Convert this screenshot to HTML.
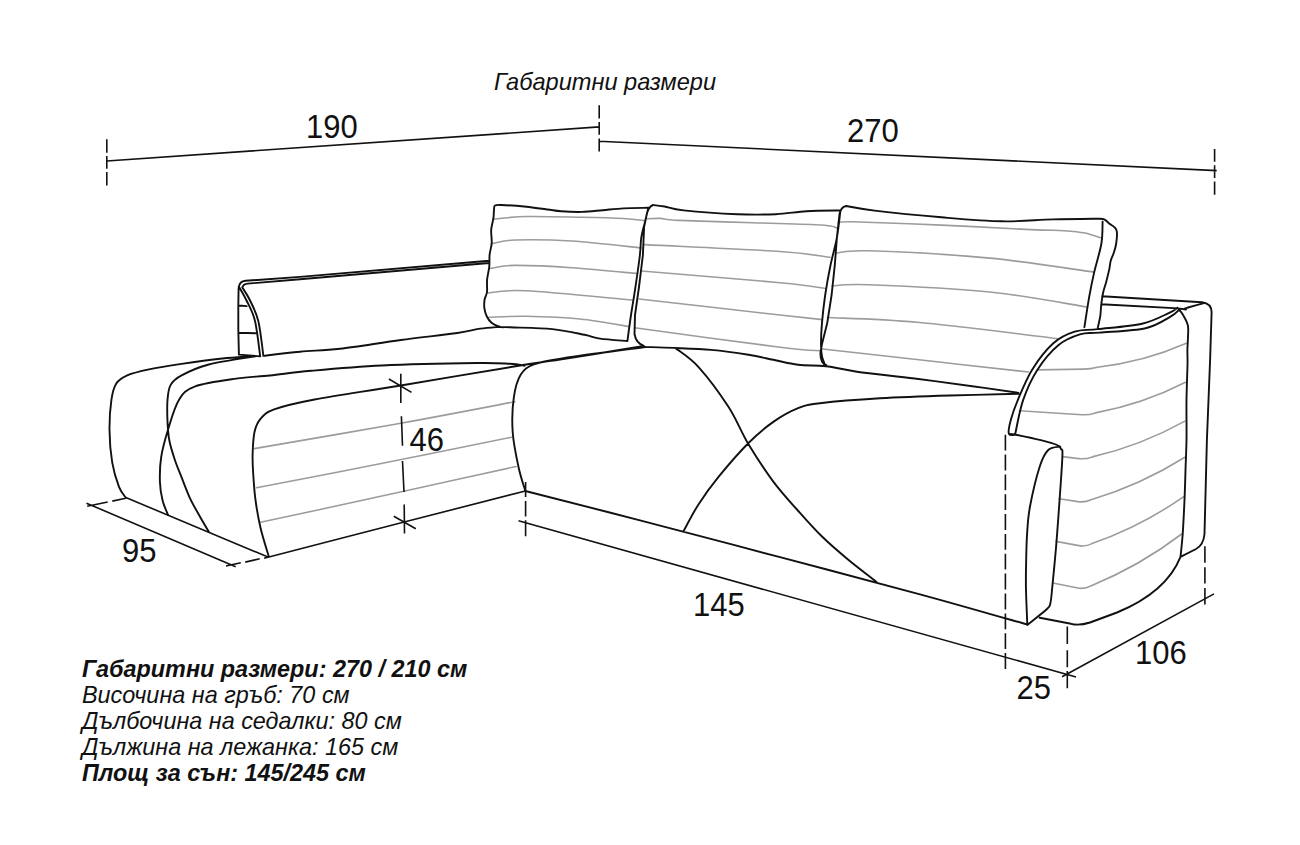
<!DOCTYPE html>
<html><head><meta charset="utf-8"><title>Sofa dimensions</title>
<style>
html,body{margin:0;padding:0;background:#fff;width:1300px;height:845px;overflow:hidden}
body{position:relative;font-family:"Liberation Sans",sans-serif;color:#111}
svg{position:absolute;left:0;top:0}
.k{fill:none;stroke:#111;stroke-width:1.9;stroke-linecap:round;stroke-linejoin:round}
.g{fill:none;stroke:#9c9c9c;stroke-width:1.6;stroke-linecap:round}
.dm{fill:none;stroke:#111;stroke-width:1.6}
.t{position:absolute;white-space:nowrap;line-height:1;transform-origin:0 0}
.d{font-size:31px;transform:scaleY(1.1)}
.blk{font-size:23.4px;font-style:italic;line-height:25.9px}
</style></head><body>
<svg width="1300" height="845" viewBox="0 0 1300 845">
<path class="g" d="M493.4 219.0C498.9 218.6 511.8 216.8 526.6 216.5C541.4 216.2 565.9 216.9 582.0 217.2C598.1 217.5 613.1 217.9 623.5 218.5C633.9 219.1 640.8 220.2 644.3 220.6M492.7 243.5C496.4 242.9 501.4 240.4 514.6 240.0C527.8 239.6 550.9 239.7 572.0 241.0C593.1 242.3 629.9 246.8 641.5 248.0M490.4 268.4C494.4 267.9 501.0 265.5 514.6 265.4C528.2 265.3 551.6 266.3 572.0 267.7C592.4 269.1 626.2 272.5 637.0 273.5M488.0 293.0C494.3 292.6 502.0 289.6 526.0 290.8C550.0 292.0 614.3 298.5 632.0 300.0M489.0 317.3C495.2 317.1 510.8 316.0 526.0 316.3C541.2 316.6 562.8 317.3 580.0 319.0C597.2 320.7 620.8 325.2 629.0 326.5M645.5 218.8C648.0 218.7 654.9 218.1 660.4 218.4C665.9 218.7 663.4 219.7 678.8 220.4C694.2 221.1 728.9 221.9 752.7 222.7C776.6 223.5 807.8 224.1 821.9 225.0C836.0 225.9 834.7 227.6 837.3 228.1M644.0 244.6C666.7 245.8 749.0 249.4 780.0 251.5C811.0 253.6 821.7 256.3 830.0 257.3M641.5 271.0C664.6 272.9 749.4 279.8 780.0 282.7C810.6 285.6 817.8 287.5 825.4 288.5M639.0 299.0C662.5 301.7 749.5 311.6 780.0 315.0C810.5 318.4 815.0 318.8 822.0 319.6M634.6 327.7C658.8 331.0 749.0 343.4 780.0 347.3C811.0 351.2 814.0 350.2 820.8 350.8M838.2 223.0C840.6 222.8 835.1 221.5 852.3 221.8C869.5 222.2 911.8 223.8 941.5 225.1C971.2 226.4 1010.3 228.7 1030.8 229.6C1051.2 230.5 1055.2 230.1 1064.2 230.7C1073.2 231.3 1079.0 231.8 1085.0 233.0C1091.0 234.2 1097.9 237.0 1100.5 237.8M835.8 253.2C841.2 252.8 842.8 250.0 868.5 250.8C894.2 251.6 952.2 254.6 989.8 258.1C1027.4 261.7 1076.7 269.8 1094.1 272.1M832.1 286.0C838.2 285.8 842.2 283.7 868.5 284.7C894.8 285.7 953.4 288.3 989.8 292.0C1026.2 295.7 1070.6 304.5 1086.8 307.0M827.3 317.5C842.2 318.3 878.6 318.8 917.0 322.3C955.4 325.8 1034.2 335.9 1057.7 338.6M822.4 349.0C842.2 351.2 906.9 358.5 941.3 362.3C975.7 366.1 1014.0 370.4 1028.6 372.0M1038.2 369.9L1083.6 369.1Q1090.6 369.0 1097.4 367.2Q1143.7 362.0 1186.4 343.3M1019.5 410.7L1081.8 414.7Q1088.8 415.2 1095.4 412.9Q1142.7 404.2 1185.5 382.3M1062.4 456.6L1078.8 458.6Q1085.8 459.4 1092.3 456.9Q1141.1 445.5 1184.9 421.1M1059.2 498.8L1077.8 501.6Q1084.7 502.7 1091.1 499.8Q1140.9 484.9 1184.9 457.3M1056.0 541.4L1078.9 545.6Q1085.8 546.8 1092.0 543.6Q1141.1 526.4 1183.8 496.7M1052.8 583.0L1077.8 588.0Q1084.7 589.4 1090.8 585.9Q1139.7 566.0 1181.7 534.0M254.3 448.6C278.7 444.4 357.4 431.0 400.8 423.2C444.2 415.4 496.0 405.3 515.0 401.7M256.5 487.8C277.1 483.8 337.5 472.2 380.0 463.8C422.5 455.4 489.8 441.6 511.7 437.2M259.4 522.5C269.5 520.3 295.0 514.9 320.0 509.5C345.0 504.1 376.7 497.2 409.4 490.0C442.1 482.8 498.4 470.4 516.2 466.5"/>
<path class="k" d="M238.9 354.6L238.3 329L238.3 305.5L238.6 288Q239.3 281.3 245.5 280.8L300 276.9C380 270 440 265 488.9 260.8M242.3 287.5Q243.3 283.9 247.7 283.6L300 279.3C380 272.5 440 267.3 489 263M238.8 286.5C240.1 288.8 243.6 294.3 246.3 300.0C249.0 305.7 252.7 311.5 255.0 320.9C257.3 330.3 259.3 350.5 260.2 356.4M242.3 287.5C243.6 289.6 247.1 294.4 249.8 300.0C252.5 305.6 256.0 311.6 258.3 320.9C260.6 330.2 262.5 350.0 263.4 355.8M238.9 305.5L246.6 306.1M238.9 332.7L255.5 333.3M238.9 354.6L260.2 356.4M263.2 355.8C269.3 355.1 287.2 352.9 300.0 351.7C312.8 350.5 323.2 350.6 340.0 348.7C356.8 346.8 381.2 342.6 400.8 340.0C420.4 337.4 444.1 334.9 457.4 333.0C470.7 331.1 473.3 329.6 480.4 328.6C487.5 327.6 496.6 327.1 499.8 326.8M648.4 207.8C647.8 210.2 646.2 217.0 645.0 222.0C643.8 227.0 642.1 232.1 641.3 237.6C640.4 243.1 640.9 246.3 639.9 255.0C638.9 263.7 636.5 280.0 635.0 290.0C633.5 300.0 632.3 306.5 631.0 315.0C629.7 323.5 628.0 336.7 627.4 341.0M627.4 341.0C622.8 340.6 607.1 339.6 600.0 338.6C592.9 337.6 592.6 336.4 584.6 334.8C576.6 333.2 564.7 330.4 552.3 329.1C539.9 327.9 518.8 327.7 510.0 327.3C501.2 326.9 502.9 327.6 499.8 326.8C496.7 326.0 493.7 324.5 491.5 322.7C489.3 320.9 487.8 318.5 486.6 316.0C485.4 313.5 484.6 310.4 484.3 307.7C484.0 304.9 484.2 302.1 484.6 299.5C485.1 296.9 486.6 295.3 487.0 292.0C487.4 288.7 486.7 283.9 487.1 279.6C487.5 275.3 488.9 270.5 489.3 266.3C489.7 262.1 489.2 258.6 489.6 254.7C490.0 250.8 491.4 247.2 491.7 243.1C492.0 238.9 490.9 234.0 491.2 229.8C491.5 225.7 492.9 221.5 493.4 218.2C493.9 214.9 493.7 212.0 494.0 209.9C494.3 207.8 493.7 206.3 495.0 205.5C496.3 204.7 496.3 204.8 501.6 205.0C506.9 205.2 519.0 206.1 526.6 206.8C534.2 207.6 541.5 208.8 547.3 209.5C553.1 210.2 555.4 210.9 561.2 211.3C567.0 211.7 575.1 212.1 582.0 211.9C588.9 211.7 595.8 210.8 602.7 210.2C609.6 209.6 615.9 208.8 623.5 208.4C631.1 208.0 644.2 207.9 648.4 207.8M643.8 346Q636 343 634.5 334L635 315L639 287L642.9 255L644.1 227L646.3 216.3Q648 207 653 205M653.0 205.0C654.9 205.2 659.5 205.6 664.6 206.5C669.7 207.4 671.4 209.1 683.5 210.4C695.6 211.7 721.9 213.6 737.3 214.2C752.7 214.8 764.3 214.7 775.8 214.2C787.3 213.7 795.7 211.8 806.5 211.2C817.3 210.6 834.8 210.6 840.4 210.5M840.4 210.7C839.8 215.2 838.5 228.5 836.9 237.6C835.2 246.7 832.5 255.6 830.5 265.2C828.5 274.8 826.6 285.4 825.2 295.0C823.8 304.6 822.7 314.5 822.0 322.7C821.3 330.9 821.0 338.4 821.0 344.0C821.0 349.6 821.3 352.9 822.0 356.5C822.7 360.1 824.8 364.2 825.4 365.8M643.0 346.9C648.1 347.1 662.5 347.4 673.9 347.9C685.3 348.4 698.8 348.8 711.2 349.9C723.6 351.0 738.1 353.1 748.5 354.8C758.9 356.5 765.0 358.1 773.3 359.8C781.6 361.5 789.3 363.7 798.1 364.8C806.9 365.9 816.2 365.1 826.0 366.2C835.8 367.3 842.2 369.6 857.0 371.7C871.8 373.8 895.4 376.1 914.6 378.5C933.8 380.9 955.0 383.8 972.3 386.2C989.6 388.6 1010.8 391.8 1018.5 392.9M846 206Q841 207 839.5 214L836.9 237.6L834.8 265.2L831.6 295L827.3 322.7L822 344L820.5 352.4Q820 363 826.3 365.2M846.0 206.0C850.8 206.8 858.7 208.7 874.6 210.6C890.5 212.5 920.3 215.5 941.5 217.3C962.7 219.1 983.2 221.0 1001.8 221.3C1020.4 221.7 1036.9 219.8 1053.1 219.4C1069.3 219.0 1091.5 218.8 1099.2 218.7M1099.2 218.7C1100.1 218.8 1102.9 218.8 1104.6 219.6C1106.3 220.4 1107.5 222.2 1109.2 223.5C1110.9 224.8 1113.3 225.9 1114.6 227.3C1115.9 228.7 1116.6 229.2 1116.9 231.9C1117.2 234.6 1116.7 240.0 1116.2 243.5C1115.7 247.0 1114.7 249.9 1113.8 252.7C1112.9 255.5 1111.6 257.6 1110.8 260.4C1110.0 263.2 1110.0 266.0 1109.2 269.6C1108.4 273.2 1107.2 278.0 1106.2 281.9C1105.2 285.8 1103.9 288.8 1103.1 292.7C1102.3 296.6 1101.7 301.1 1101.2 305.0C1100.7 308.9 1100.9 311.9 1100.3 315.8C1099.7 319.7 1098.1 326.1 1097.7 328.1M1102.6 221.7C1102.4 225.3 1102.8 235.0 1101.4 243.5C1100.0 252.0 1096.1 263.7 1094.1 272.6C1092.1 281.5 1090.8 287.8 1089.2 296.9C1087.6 306.0 1085.2 322.1 1084.4 327.2M1102.1 296.2L1202 302.2Q1211.8 303.5 1211.6 312.5L1210.1 360L1206.9 440L1204.5 534Q1203.5 545 1196 549L1180.5 556.8M1101.2 304.2L1178.4 308.4M1185.0 308.4C1185.8 308.2 1186.6 307.9 1189.8 307.0C1193.0 306.1 1201.6 303.8 1204.0 303.2M1178.4 308.4L1186.0 309.5M1016.0 434.7C1014.8 434.6 1009.8 436.2 1008.9 433.8C1008.0 431.4 1009.3 425.6 1010.8 420.0C1012.3 414.4 1014.3 408.5 1017.8 400.1C1021.3 391.8 1026.1 379.4 1032.0 369.9C1037.9 360.4 1046.2 349.7 1053.3 343.3C1060.4 336.9 1067.2 334.1 1074.6 331.7C1082.0 329.3 1086.5 330.4 1097.7 329.1C1108.9 327.8 1130.2 326.4 1142.0 323.7C1153.8 321.0 1162.8 315.8 1168.7 313.1C1174.6 310.5 1176.1 308.7 1177.6 307.8M1015.1 434.7C1016.4 428.9 1019.4 410.9 1023.1 400.1C1026.8 389.3 1031.4 379.1 1037.3 369.9C1043.2 360.7 1051.5 350.9 1058.6 345.0C1065.7 339.1 1073.1 336.5 1079.9 334.4C1086.7 332.3 1088.5 333.6 1099.4 332.6C1110.4 331.6 1133.8 330.9 1145.6 328.2C1157.4 325.5 1164.9 319.7 1170.5 316.6C1176.1 313.5 1177.8 310.7 1179.3 309.5M1177.6 307.8C1178.5 309.0 1181.4 312.1 1183.1 315.0C1184.8 317.9 1187.1 321.6 1187.9 325.5C1188.7 329.4 1188.0 334.6 1187.9 338.7C1187.8 342.8 1187.5 345.6 1187.4 350.0C1187.3 354.4 1187.7 356.7 1187.5 365.0C1187.3 373.3 1186.7 387.5 1186.5 400.0C1186.3 412.5 1186.7 428.3 1186.5 440.0C1186.3 451.7 1185.8 460.0 1185.5 470.0C1185.2 480.0 1185.0 489.3 1184.5 500.0C1184.0 510.7 1183.4 524.5 1182.7 534.0C1182.0 543.5 1180.9 553.0 1180.5 556.8M1180.5 556.8C1172 578 1152 598 1117 612.5L1090 622.5Q1079 626 1071 623.8L1039.7 617.8M1008.9 433.8C1010.1 433.9 1010.7 433.6 1016.0 434.7C1021.3 435.8 1034.0 438.5 1040.8 440.2C1047.6 441.9 1053.6 443.5 1057.0 445.0C1060.4 446.5 1060.1 447.2 1061.0 449.0C1061.9 450.8 1062.7 446.6 1062.4 456.0C1062.1 465.4 1060.3 489.9 1059.2 505.2C1058.1 520.5 1057.2 533.7 1056.0 547.8C1054.8 561.9 1052.9 580.8 1052.0 590.0C1051.1 599.2 1051.2 599.8 1050.4 603.0C1049.6 606.2 1050.8 605.4 1047.0 609.0C1043.2 612.6 1030.6 622.2 1027.3 624.9M1060.2 446.6C1058.2 447.1 1051.9 446.6 1048.5 449.8C1045.1 453.0 1043.1 456.4 1040.0 465.8C1036.9 475.2 1032.2 494.9 1030.0 506.5C1027.8 518.1 1027.7 524.8 1027.0 535.4C1026.3 546.0 1026.2 560.9 1026.0 570.0C1025.8 579.1 1025.8 580.9 1026.0 590.0C1026.2 599.1 1027.1 619.1 1027.3 624.9M525.4 491.2C524.2 487.2 520.6 476.8 518.5 467.0C516.4 457.2 513.5 443.9 512.7 432.3C511.9 420.8 512.4 407.3 513.8 397.7C515.1 388.1 517.3 380.2 520.8 374.6C524.3 369.0 526.5 367.1 534.6 364.2C542.7 361.3 550.7 360.2 569.2 357.3C587.7 354.4 632.7 348.7 645.4 347.0M675.2 347.9C679.1 351.1 689.9 357.4 698.8 367.3C707.7 377.2 720.3 394.2 728.6 407.0C736.9 419.8 741.0 431.9 748.5 444.3C756.0 456.7 765.2 470.7 773.3 481.6C781.4 492.5 788.9 500.4 797.0 509.5C805.1 518.6 813.5 528.2 822.0 536.5C830.5 544.8 838.9 551.9 848.0 559.5C857.1 567.1 871.8 578.2 876.5 582.0M683.5 531.3C686.0 526.7 692.9 513.0 698.8 503.9C704.7 494.8 710.4 486.8 718.7 476.6C727.0 466.5 739.4 452.1 748.5 443.0C757.6 433.9 765.0 427.7 773.3 421.9C781.6 416.1 790.3 411.3 798.1 408.2C805.9 405.1 806.4 404.8 820.0 403.2C833.6 401.6 858.3 399.6 880.0 398.3C901.7 397.0 926.9 396.2 950.0 395.5C973.1 394.8 1007.1 394.1 1018.5 393.8M525.3 491.0C544.4 495.9 597.5 509.3 640.0 520.3C682.5 531.3 733.3 544.9 780.0 557.2C826.7 569.5 878.8 583.1 920.0 594.3C961.2 605.5 1009.4 619.5 1027.3 624.6M268.7 556.3C267.3 551.5 262.7 537.2 260.5 527.8C258.3 518.4 256.7 508.8 255.5 500.0C254.3 491.2 253.8 482.5 253.3 475.0C252.8 467.5 252.4 462.2 252.6 455.0C252.8 447.8 253.2 438.0 254.5 432.0C255.8 426.0 257.2 422.7 260.5 418.9C263.8 415.1 265.1 412.6 274.1 409.4C283.1 406.2 293.5 403.5 314.6 399.5C335.7 395.5 365.8 391.3 400.8 385.5C435.8 379.7 498.1 369.1 524.6 364.8C551.1 360.5 548.3 361.3 560.0 359.5C571.7 357.7 581.0 356.2 595.0 354.0C609.0 351.8 635.7 347.3 643.8 346.0M251.0 356.3C246.2 356.7 234.0 357.2 222.4 358.5C210.8 359.8 193.8 362.1 181.6 363.9C169.4 365.7 158.1 367.5 149.0 369.4C139.9 371.3 132.7 373.0 127.2 375.4C121.8 377.8 118.9 379.4 116.3 383.5C113.7 387.6 112.5 392.2 111.4 399.9C110.3 407.6 109.4 419.4 109.5 429.8C109.6 440.2 110.6 452.9 112.2 462.4C113.8 471.9 116.7 481.0 119.0 486.9C121.3 492.8 124.8 496.0 125.9 497.8M255.4 356.3C247.6 357.7 221.1 361.3 208.8 364.5C196.5 367.7 187.9 372.0 181.6 375.4C175.2 378.8 173.0 380.8 170.7 384.9C168.3 389.0 168.0 393.8 167.5 399.9C167.0 406.0 167.2 414.8 167.5 421.6C167.8 428.4 168.2 434.4 169.4 440.7C170.6 447.0 172.8 453.6 174.8 459.7C176.8 465.8 179.1 471.0 181.6 477.4C184.1 483.8 186.9 491.4 189.8 497.8C192.8 504.2 196.1 509.8 199.3 515.5C202.5 521.2 207.2 529.1 208.8 531.8M524.6 365.7C522.2 365.4 518.0 364.2 510.0 363.8C502.0 363.4 497.9 362.7 476.6 363.0C455.3 363.3 409.6 364.2 382.0 365.5C354.4 366.8 329.7 369.1 311.0 370.8C292.3 372.5 282.5 374.2 270.0 375.5C257.5 376.8 248.5 376.8 236.0 378.6C223.5 380.4 204.7 382.8 195.2 386.3C185.7 389.9 183.4 392.6 178.9 399.9C174.4 407.1 170.9 420.3 168.0 429.8C165.1 439.3 162.5 448.4 161.2 457.0C159.8 465.6 159.7 474.2 159.9 481.5C160.1 488.8 161.2 494.9 162.6 500.5C163.9 506.1 167.1 512.4 168.0 514.8"/>
<path class="dm" d="M106.8 161.0L599.2 126.9M599.2 141.2L1216.7 170.6M518.5 520.8L1076.0 677.0M1062.1 676.8L1214.0 593.9M264.1 558.2L320.0 543.7L404.2 522.0L525.4 491.0M125.8 497.5L268.0 557.1M400.8 373.7L400.8 402.9M401.4 416.2L402.5 445.8M402.5 461.0L404.0 492.0M404.2 504.6L404.5 533.5M388.9 379.0L411.5 392.4M393.8 516.2L415.8 528.8M86.5 503.2L235.7 566.7M106.8 139.2L106.8 152.7M106.8 155.9L106.8 168.7M106.8 171.9L106.8 185.4M599.2 105.3L599.2 118.5M599.2 122.0L599.2 134.8M599.2 138.4L599.2 151.5M1214.6 148.9L1214.6 161.7M1214.6 165.2L1214.6 178.0M1214.6 181.6L1214.6 194.7M525.6 482.0L525.6 497.0M525.6 501.1L525.6 516.4M525.6 520.2L525.6 536.3M1005.4 434.7L1005.4 450.6M1005.4 454.6L1005.4 470.4M1005.4 474.4L1005.4 490.2M1005.4 494.2L1005.4 510.1M1005.4 514.1L1005.4 530.0M1005.4 534.0L1005.4 549.8M1005.4 553.8L1005.4 569.6M1005.4 573.6L1005.4 589.5M1005.4 593.5L1005.4 609.4M1005.4 613.4L1005.4 629.2M1005.4 633.2L1005.4 649.1M1005.4 653.0L1005.4 668.9M1067.3 626.6L1067.3 644.1M1067.3 650.3L1067.3 667.3M1067.3 671.1L1067.3 688.2M1204.9 546.2L1204.9 562.8M1204.9 567.3L1204.9 583.5M1204.9 588.0L1204.9 604.6M87.2 506.2L107.7 502.0M112.3 501.1L125.7 498.3M226.0 566.0L240.8 562.8M245.2 562.1L259.7 558.8"/>
</svg>
<div class="t" style="left:494px;top:71px;font-size:23.6px;font-style:italic">Габаритни размери</div>
<div class="t d" style="left:306px;top:109px">190</div>
<div class="t d" style="left:847px;top:113px">270</div>
<div class="t d" style="left:409.5px;top:422px">46</div>
<div class="t d" style="left:122px;top:532.5px">95</div>
<div class="t d" style="left:693px;top:587.2px">145</div>
<div class="t d" style="left:1135px;top:635px">106</div>
<div class="t d" style="left:1016.5px;top:670px">25</div>
<div class="t blk" style="left:82px;top:657px">
<b>Габаритни размери: 270 / 210 см</b><br>Височина на гръб: 70 см<br>Дълбочина на седалки: 80 см<br>Дължина на лежанка: 165 см<br><b>Площ за сън: 145/245 см</b></div>

</body></html>
